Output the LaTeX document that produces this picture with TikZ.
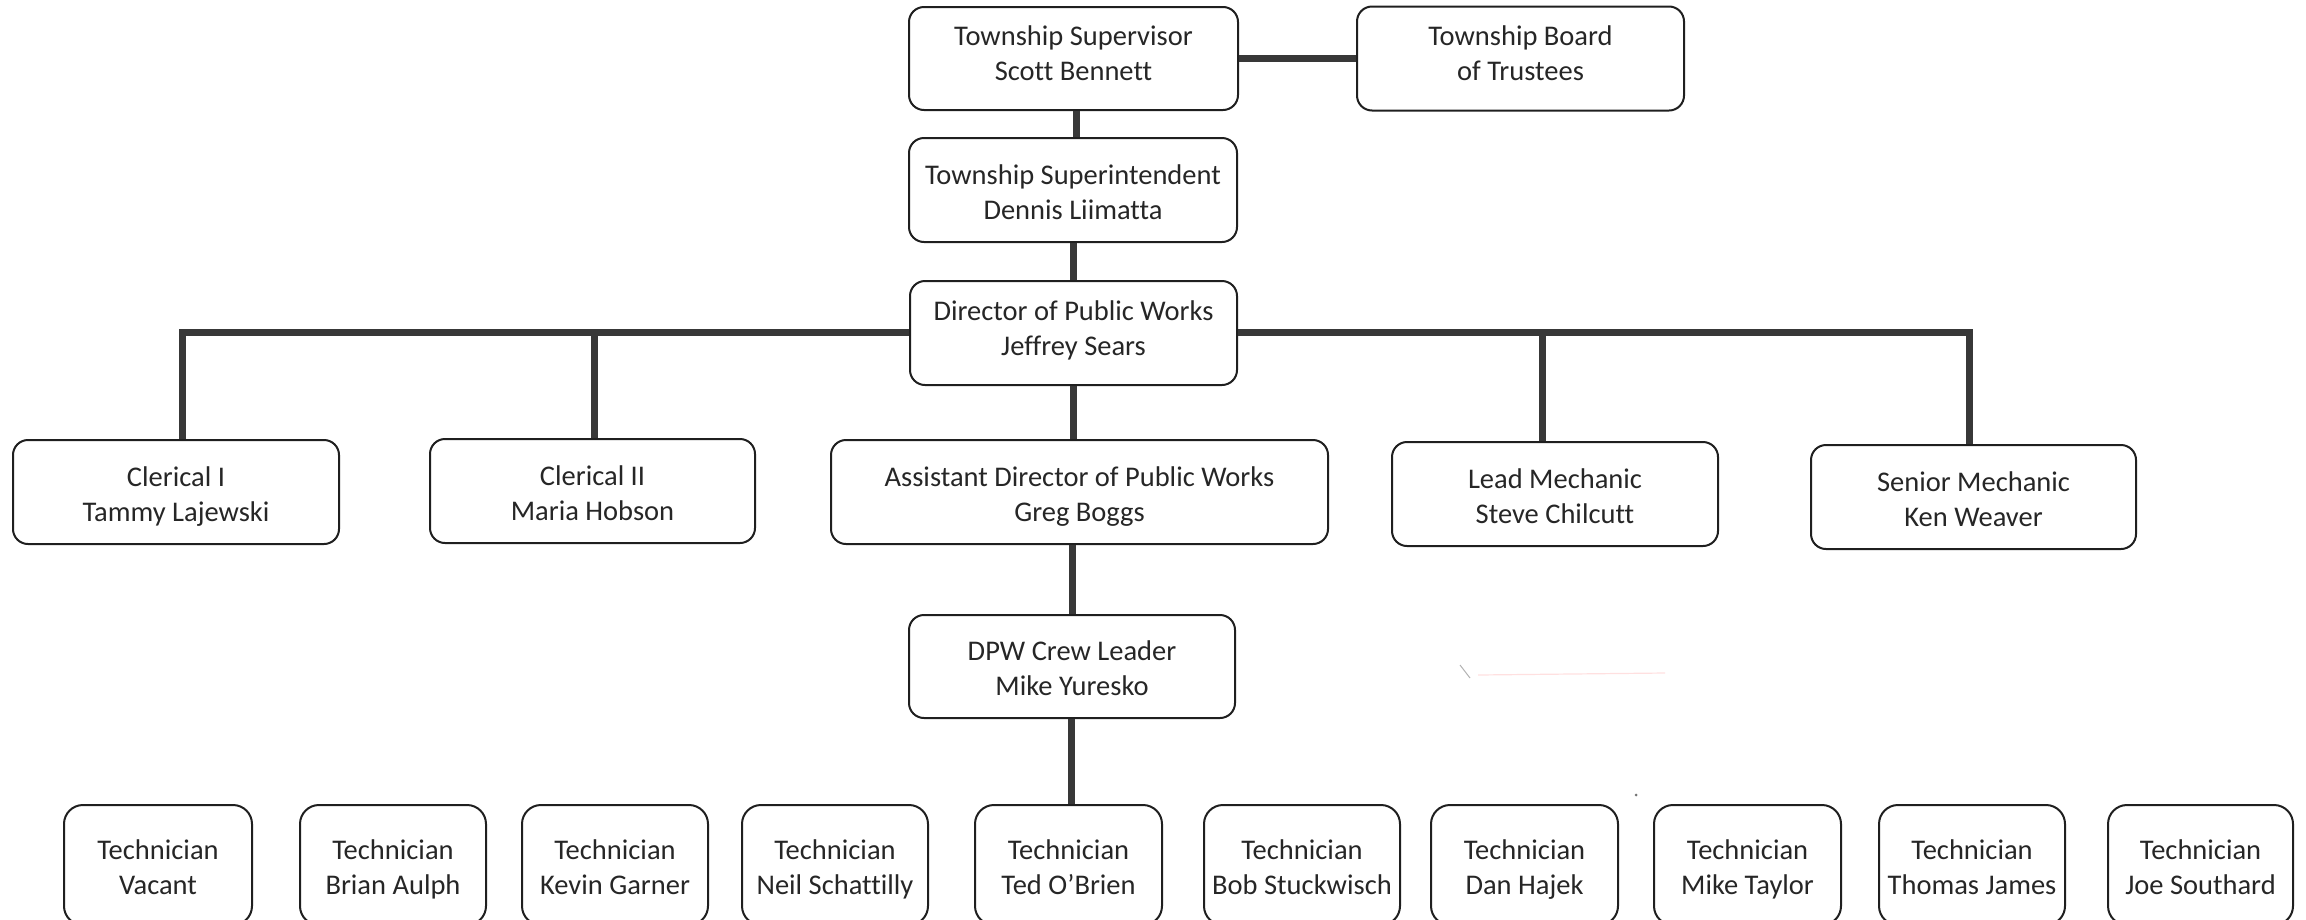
\documentclass[tikz,border=0pt]{standalone}
\usepackage{fontspec}
\setmainfont[Ligatures=NoCommon]{Carlito}
\newcommand{\linestrut}{\rule[-6pt]{0pt}{35pt}}
\newcommand{\linestrutup}{\rule[-13pt]{0pt}{35pt}}
\newcommand{\twoline}[2]{\linestrut #1\\\linestrut #2}
\newcommand{\twolineup}[2]{\linestrutup #1\\\linestrutup #2}
\begin{document}
\begin{tikzpicture}[x=1pt,y=-1pt,
  box/.style={draw=black!88, line width=2pt, rounded corners=15pt, minimum height=104pt,
    inner sep=0pt, align=center, text=black!85, font=\fontsize{28.5}{35}\selectfont},
  techbox/.style={box, rounded corners=19pt, minimum height=120pt},
  conn/.style={draw=black!78, line width=7pt, line join=miter}]
\useasboundingbox (0,0) rectangle (2306,919);
\clip (0,0) rectangle (2306,919);
% top
\node[box, minimum width=329pt, minimum height=103pt] (sup) at (1073.5,58.5) {\twolineup{Township Supervisor}{Scott Bennett}};
\node[box, minimum width=327pt] (board) at (1520.5,58.5) {\twolineup{Township Board}{of Trustees}};
\node[box, minimum width=328pt] (supt) at (1073,190) {\twoline{Township Superintendent}{Dennis Liimatta}};
\node[box, minimum width=327pt] (dir) at (1073.5,333) {\twolineup{Director of Public Works}{Jeffrey Sears}};
% second row
\node[box, minimum width=326pt] (cl1) at (176,492) {\twoline{Clerical I}{Tammy Lajewski}};
\node[box, minimum width=325pt] (cl2) at (592.5,491) {\twoline{Clerical II}{Maria Hobson}};
\node[box, minimum width=497pt] (asst) at (1079.5,492) {\twoline{Assistant Director of Public Works}{Greg Boggs}};
\node[box, minimum width=326pt] (lead) at (1555,494) {\twoline{Lead Mechanic}{Steve Chilcutt}};
\node[box, minimum width=325pt] (senior) at (1973.5,497) {\twoline{Senior Mechanic}{Ken Weaver}};
\node[box, minimum width=326pt, minimum height=103pt] (crew) at (1072,666.5) {\twoline{DPW Crew Leader}{Mike Yuresko}};
% technicians
\foreach \i/\l/\r/\n in {1/64/252/Vacant, 2/300/486/Brian Aulph, 3/522/708/Kevin Garner,
  4/742/928/Neil Schattilly, 5/975/1162/Ted O’Brien, 6/1204/1400/Bob Stuckwisch,
  7/1431/1618/Dan Hajek, 8/1654/1841/Mike Taylor, 9/1879/2065/Thomas James,
  10/2108/2293/Joe Southard}{
  \pgfmathsetmacro\w{\r-\l}
  \pgfmathsetmacro\c{(\l+\r)/2}
  \node[techbox, minimum width=\w pt] (t\i) at (\c,865) {\twoline{Technician}{\n}};
}
% connectors
\coordinate (busL) at (182,332);
\coordinate (busC2) at (594,332);
\coordinate (busR) at (1969,332);
\coordinate (busLead) at (1542,332);
\draw[conn] (sup.east) -- (board.west);
\draw[conn] ([xshift=2.5pt]sup.south) -- ([xshift=2.5pt]sup.south |- supt.north);
\draw[conn] (supt.south) -- (supt.south |- dir.north);
\draw[conn] (dir.west |- busL) -- (busL) -- (busL |- cl1.north);
\draw[conn] (busC2) -- (busC2 |- cl2.north);
\draw[conn] (dir.east |- busR) -- (busR) -- (busR |- senior.north);
\draw[conn] (busLead) -- (busLead |- lead.north);
\draw[conn] (dir.south) -- (dir.south |- asst.north);
\draw[conn] (crew.north |- asst.south) -- (crew.north);
\draw[conn] ([xshift=-1pt]crew.south) -- ([xshift=-1pt]crew.south |- t5.north);
% faint scan marks
\draw[red!12, line width=1.2pt] (1478,675) -- (1665,673);
\draw[black!30, line width=1pt] (1460,665) -- (1470,678);
\fill[black!55] (1636,795) circle (1.5);
\end{tikzpicture}
\end{document}
